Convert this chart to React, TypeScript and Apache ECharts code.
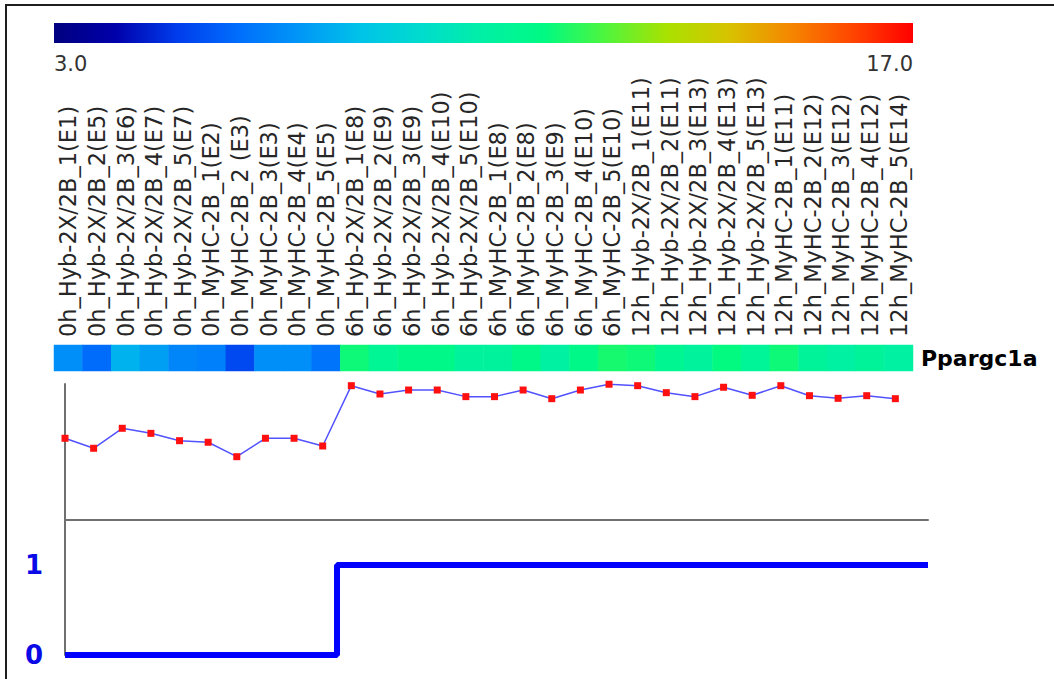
import React, { useEffect, useRef } from "react";
import * as echarts from "echarts";

// Sample names (one column each)
const sampleLabels: string[] = [
  "0h_Hyb-2X/2B_1(E1)",
  "0h_Hyb-2X/2B_2(E5)",
  "0h_Hyb-2X/2B_3(E6)",
  "0h_Hyb-2X/2B_4(E7)",
  "0h_Hyb-2X/2B_5(E7)",
  "0h_MyHC-2B_1(E2)",
  "0h_MyHC-2B_2 (E3)",
  "0h_MyHC-2B_3(E3)",
  "0h_MyHC-2B_4(E4)",
  "0h_MyHC-2B_5(E5)",
  "6h_Hyb-2X/2B_1(E8)",
  "6h_Hyb-2X/2B_2(E9)",
  "6h_Hyb-2X/2B_3(E9)",
  "6h_Hyb-2X/2B_4(E10)",
  "6h_Hyb-2X/2B_5(E10)",
  "6h_MyHC-2B_1(E8)",
  "6h_MyHC-2B_2(E8)",
  "6h_MyHC-2B_3(E9)",
  "6h_MyHC-2B_4(E10)",
  "6h_MyHC-2B_5(E10)",
  "12h_Hyb-2X/2B_1(E11)",
  "12h_Hyb-2X/2B_2(E11)",
  "12h_Hyb-2X/2B_3(E13)",
  "12h_Hyb-2X/2B_4(E13)",
  "12h_Hyb-2X/2B_5(E13)",
  "12h_MyHC-2B_1(E11)",
  "12h_MyHC-2B_2(E12)",
  "12h_MyHC-2B_3(E12)",
  "12h_MyHC-2B_4(E12)",
  "12h_MyHC-2B_5(E14)",
];

const geneName = "Ppargc1a";

// Expression of the gene per sample
const expression: number[] = [
  6.79, 5.96, 7.62, 7.2, 6.59, 6.46, 5.26, 6.79, 6.79, 6.15,
  11.16, 10.47, 10.8, 10.8, 10.25, 10.25, 10.8, 10.08, 10.8, 11.28,
  11.16, 10.58, 10.25, 11.03, 10.36, 11.16, 10.33, 10.11, 10.33, 10.08,
];

// Group indicator (0 = 0h, 1 = 6h/12h)
const groupFlag: number[] = [
  0, 0, 0, 0, 0, 0, 0, 0, 0, 0,
  1, 1, 1, 1, 1, 1, 1, 1, 1, 1,
  1, 1, 1, 1, 1, 1, 1, 1, 1, 1,
];
const groupTicks: number[] = [0, 1];

// Colour scale
const scaleMin = 3;
const scaleMax = 17;
const scaleColors: string[] = [
  "#000080",
  "#0000aa",
  "#003cec",
  "#006efc",
  "#0096f7",
  "#00c3e8",
  "#00dccd",
  "#00f0a5",
  "#00fa82",
  "#50f53c",
  "#aae100",
  "#d7c300",
  "#f58700",
  "#ff4600",
  "#ff0000",
];
const scaleLabels: string[] = [scaleMin.toFixed(1), scaleMax.toFixed(1)];

const X_MAX = 30.14;
const EXPR_AXIS_MAX = 11.3;

export default function App() {
  const ref = useRef<HTMLDivElement>(null);

  useEffect(() => {
    if (!ref.current) return;
    const chart = echarts.init(ref.current, undefined, { renderer: "svg" });

    const heatData = expression.map((v, i) => [i, 0, v]);
    const lineData = expression.map((v, i) => [i, v]);
    const stepData = groupFlag.map((v, i) => [i, v]);
    stepData.push([X_MAX, groupFlag[groupFlag.length - 1]]);

    const n = scaleColors.length;
    const gradientStops = scaleColors.map((c, i) => ({ offset: i / (n - 1), color: c }));

    const barLeft = 54;
    const barWidth = 859;

    chart.setOption({
      animation: false,
      backgroundColor: "#ffffff",
      textStyle: { fontFamily: "DejaVu Sans" },
      visualMap: {
        type: "continuous",
        show: false,
        min: scaleMin,
        max: scaleMax,
        dimension: 2,
        seriesIndex: 0,
        inRange: { color: scaleColors },
      },
      grid: [
        { left: barLeft, top: 345, width: barWidth, height: 26 },
        { left: 65, top: 384, width: 863, height: 136 },
        { left: 65, top: 520, width: 863, height: 135 },
      ],
      xAxis: [
        {
          gridIndex: 0,
          type: "category",
          position: "top",
          data: sampleLabels,
          axisLine: { show: false },
          axisTick: { show: false },
          axisLabel: {
            interval: 0,
            rotate: -90,
            margin: 8,
            fontSize: 22.5,
            fontFamily: "DejaVu Sans",
            color: "#262626",
          },
        },
        {
          gridIndex: 1,
          type: "value",
          min: 0,
          max: X_MAX,
          axisLine: { show: true, lineStyle: { color: "#707070", width: 2 } },
          axisTick: { show: false },
          axisLabel: { show: false },
          splitLine: { show: false },
        },
        {
          gridIndex: 2,
          type: "value",
          min: 0,
          max: X_MAX,
          show: false,
          splitLine: { show: false },
        },
      ],
      yAxis: [
        {
          gridIndex: 0,
          type: "category",
          position: "right",
          data: [geneName],
          axisLine: { show: false },
          axisTick: { show: false },
          axisLabel: {
            margin: 8,
            fontSize: 22,
            fontWeight: "bold",
            fontFamily: "DejaVu Sans",
            color: "#000000",
          },
        },
        {
          gridIndex: 1,
          type: "value",
          min: 0,
          max: EXPR_AXIS_MAX,
          axisLine: { show: true, lineStyle: { color: "#707070", width: 2 } },
          axisTick: { show: false },
          axisLabel: { show: false },
          splitLine: { show: false },
        },
        {
          gridIndex: 2,
          type: "value",
          min: 0,
          max: 1.5,
          interval: 1,
          axisLine: { show: true, lineStyle: { color: "#707070", width: 2 } },
          axisTick: { show: false },
          splitLine: { show: false },
          axisLabel: {
            margin: 22,
            fontSize: 26,
            fontWeight: "bold",
            fontFamily: "DejaVu Sans",
            color: "#0a0ae6",
            formatter: (v: number) => (groupTicks.includes(v) ? String(v) : ""),
          },
        },
      ],
      series: [
        {
          type: "heatmap",
          xAxisIndex: 0,
          yAxisIndex: 0,
          data: heatData,
          itemStyle: { borderWidth: 0 },
        },
        {
          type: "line",
          xAxisIndex: 1,
          yAxisIndex: 1,
          data: lineData,
          symbol: "rect",
          symbolSize: 7,
          lineStyle: { color: "#5252ff", width: 1.5 },
          itemStyle: { color: "#ff1010" },
        },
        {
          type: "line",
          xAxisIndex: 2,
          yAxisIndex: 2,
          data: stepData,
          step: "middle",
          symbol: "none",
          lineStyle: { color: "#0000ff", width: 6, cap: "butt" },
        },
      ],
      graphic: [
        {
          type: "line",
          shape: { x1: 6, y1: 5, x2: 6, y2: 679 },
          style: { stroke: "#1e1e1e", lineWidth: 2 },
        },
        {
          type: "line",
          shape: { x1: 5, y1: 5, x2: 1054, y2: 5 },
          style: { stroke: "#1e1e1e", lineWidth: 2 },
        },
        {
          type: "rect",
          shape: { x: barLeft, y: 23, width: barWidth, height: 20 },
          style: {
            fill: new echarts.graphic.LinearGradient(0, 0, 1, 0, gradientStops),
          },
        },
        {
          type: "text",
          x: barLeft,
          y: 53,
          style: {
            text: scaleLabels[0],
            fontSize: 21,
            fontFamily: "DejaVu Sans",
            fill: "#333333",
            textAlign: "left",
          },
        },
        {
          type: "text",
          x: barLeft + barWidth,
          y: 53,
          style: {
            text: scaleLabels[1],
            fontSize: 21,
            fontFamily: "DejaVu Sans",
            fill: "#333333",
            textAlign: "right",
          },
        },
      ],
    });

    return () => chart.dispose();
  }, []);

  return (
    <div
      ref={ref}
      style={{ position: "fixed", left: 0, top: 0, width: 1054, height: 679 }}
    />
  );
}
